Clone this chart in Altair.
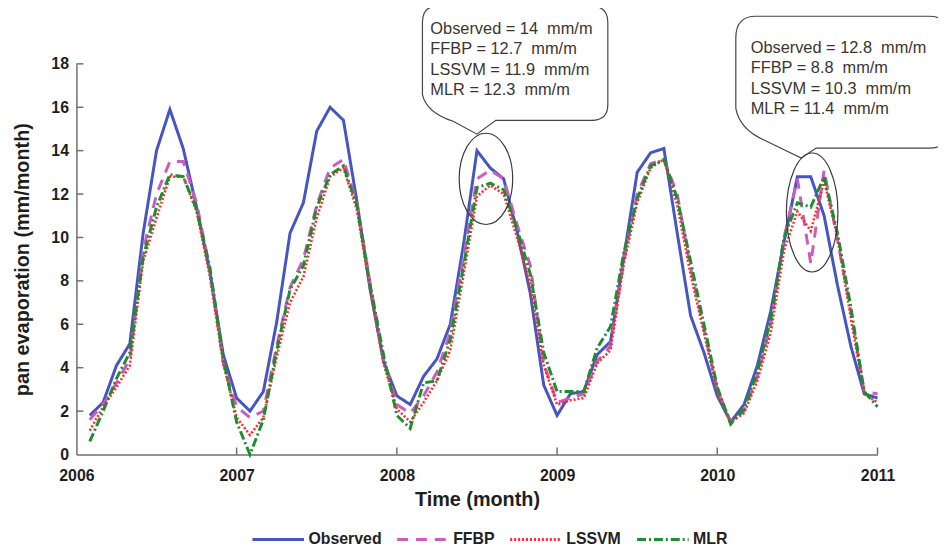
import altair as alt
import pandas as pd

# ---------------- data ----------------
month_index = list(range(1, 61))  # Jan 2006 .. Dec 2010 (monthly)
observed = [1.8, 2.4, 4.1, 5.1, 10.2, 14.0, 15.9, 14.1, 11.4, 8.4, 4.6, 2.6,
            2.0, 2.9, 6.1, 10.2, 11.6, 14.9, 16.0, 15.4, 11.7, 7.6, 4.3, 2.7,
            2.3, 3.6, 4.4, 6.0, 9.7, 14.0, 13.2, 12.7, 10.3, 7.4, 3.2, 1.8,
            2.8, 2.9, 4.6, 5.2, 9.1, 13.0, 13.9, 14.1, 10.2, 6.4, 4.7, 2.7,
            1.5, 2.3, 4.1, 6.6, 9.8, 12.8, 12.8, 11.0, 7.8, 5.0, 2.8, 2.6]
ffbp = [1.6, 2.3, 3.3, 4.4, 9.4, 12.0, 13.5, 13.5, 11.6, 8.5, 4.2, 2.2,
        1.7, 2.0, 5.0, 7.7, 9.0, 11.5, 13.2, 13.6, 11.6, 7.9, 4.4, 2.3,
        1.9, 2.7, 3.8, 5.6, 9.1, 12.7, 13.1, 12.7, 10.6, 8.7, 4.2, 2.4,
        2.6, 2.8, 4.3, 5.0, 8.9, 12.0, 13.4, 13.6, 12.0, 8.6, 5.8, 3.0,
        1.5, 2.0, 3.6, 6.0, 10.0, 12.7, 8.8, 13.1, 9.9, 6.6, 2.9, 2.8]
lssvm = [1.1, 2.2, 3.1, 4.1, 8.9, 10.9, 12.8, 12.8, 11.2, 8.2, 4.2, 1.7,
         0.9, 1.7, 4.5, 7.0, 8.2, 10.9, 12.8, 13.2, 11.3, 7.6, 4.2, 2.1,
         1.5, 2.4, 3.4, 4.8, 8.3, 11.9, 12.4, 12.0, 10.0, 7.8, 4.1, 2.3,
         2.5, 2.6, 4.2, 4.8, 8.8, 11.6, 13.2, 13.6, 11.5, 8.3, 5.6, 2.9,
         1.5, 1.9, 3.4, 5.6, 9.4, 11.2, 10.3, 12.6, 10.0, 6.3, 2.8, 2.4]
mlr = [0.6, 2.0, 3.5, 4.7, 9.1, 11.4, 12.9, 12.8, 11.3, 8.6, 4.4, 1.5,
       0.0, 1.6, 4.8, 7.6, 8.7, 11.4, 12.9, 13.3, 11.5, 7.8, 4.6, 1.8,
       1.2, 3.3, 3.4, 5.3, 8.7, 12.3, 12.5, 12.2, 10.4, 8.3, 4.7, 2.9,
       2.9, 2.9, 4.9, 5.9, 9.3, 11.8, 13.3, 13.6, 11.8, 8.9, 6.0, 3.1,
       1.4, 2.1, 3.8, 6.2, 10.0, 11.6, 11.4, 12.8, 10.2, 6.8, 2.9, 2.2]

series_names = ["Observed", "FFBP", "LSSVM", "MLR"]
series_colors = ["#4656c0", "#cc5cbf", "#ff2a2a", "#1f8c2f"]
series_dashes = [[1, 0], [11, 8], [2, 2], [9, 3, 2, 3]]
series_widths = [3, 3, 2.6, 3]

year_ticks = [2006, 2007, 2008, 2009, 2010, 2011]
value_ticks = [0, 2, 4, 6, 8, 10, 12, 14, 16, 18]

callout_labels = ["Observed", "FFBP", "LSSVM", "MLR"]
callout1_values = ["14", "12.7", "11.9", "12.3"]
callout2_values = ["12.8", "8.8", "10.3", "11.4"]
# circled regions (centre in data units) and callout tips (data units)
circle_time = [2008.556, 2010.592]
circle_value = [12.70, 11.15]
tip_time = [2008.500, 2010.524]
tip_value = [14.76, 13.66]

FONT = "Liberation Sans"
AXIS_COLOR = "#707070"
W, H = 808, 394

rows = []
for name, vals in zip(series_names, [observed, ffbp, lssvm, mlr]):
    for m, v in zip(month_index, vals):
        rows.append({"series": name, "time": 2006 + m / 12.0, "value": v})
df = pd.DataFrame(rows)

x_scale = alt.Scale(domain=[2006, 2011], nice=False, zero=False)
y_scale = alt.Scale(domain=[0, 18], nice=False)

x_enc = alt.X("time:Q", scale=x_scale,
              axis=alt.Axis(values=year_ticks, format="d", title="Time (month)",
                            labelPadding=13, labelFlush=False, labelOverlap=False,
                            titleY=35, titleBaseline="top"))
y_enc = alt.Y("value:Q", scale=y_scale,
              axis=alt.Axis(values=value_ticks, title="pan evaporation (mm/month)",
                            labelPadding=8, titleAngle=270, titleBaseline="bottom",
                            titleAlign="center", titleX=-44, titleY=H / 2))

legend = alt.Legend(orient="none", legendX=176, legendY=452, direction="horizontal",
                    symbolType="stroke", symbolSize=2704, symbolStrokeWidth=3,
                    labelFont=FONT, labelFontSize=16, labelFontWeight="bold",
                    labelColor="#222222", labelOffset=3, columnPadding=9, padding=0)
color_enc = alt.Color("series:N", title=None,
                      scale=alt.Scale(domain=series_names, range=series_colors),
                      legend=legend)
dash_enc = alt.StrokeDash("series:N", title=None,
                          scale=alt.Scale(domain=series_names, range=series_dashes),
                          legend=legend)

layers = []
for name, w in zip(series_names, series_widths):
    layers.append(
        alt.Chart(df).transform_filter(alt.datum.series == name)
        .mark_line(strokeWidth=w)
        .encode(x=x_enc, y=y_enc, color=color_enc, strokeDash=dash_enc)
    )

# inward ticks
ytick_df = pd.DataFrame({"value": value_ticks[1:]})
xtick_df = pd.DataFrame({"time": year_ticks[1:]})
layers.append(
    alt.Chart(ytick_df).mark_rule(color=AXIS_COLOR, strokeWidth=1.5)
    .encode(y=y_enc, x=alt.value(0), x2=alt.value(7))
)
layers.append(
    alt.Chart(xtick_df).mark_rule(color=AXIS_COLOR, strokeWidth=1.5)
    .encode(x=x_enc, y=alt.value(H), y2=alt.value(H - 7))
)

# ellipses around the highlighted peaks and speech-bubble callouts
ellipse_paths = [
    "M -27 0 A 27 46 0 1 0 27 0 A 27 46 0 1 0 -27 0 Z",
    "M -26 0 A 26 60 0 1 0 26 0 A 26 60 0 1 0 -26 0 Z",
]
bubble_paths = [
    "M -40 -129 H 116 Q 132 -129 132 -113 V -30 Q 132 -14 116 -14 H 19 L 0 0 "
    "L -24 -13 Q -51 -22 -55 -40 V -113 Q -55 -129 -40 -129 Z",
    "M -46 -143 H 129 Q 149 -143 149 -121 V -30 Q 149 -10 129 -10 H 15 L 0 0 "
    "L -35 -17 Q -62 -28 -66 -50 V -121 Q -66 -143 -46 -143 Z",
]
text_offsets = [(-47, -106), (-51, -111)]
callout_values = [callout1_values, callout2_values]

for i in range(2):
    cdf = pd.DataFrame({"time": [circle_time[i]], "value": [circle_value[i]]})
    layers.append(
        alt.Chart(cdf).mark_point(shape=ellipse_paths[i], size=4, filled=False,
                                  color="#3a3a3a", strokeWidth=1.2, opacity=1)
        .encode(x=x_enc, y=y_enc)
    )
    text = "\n".join(f"{lab} = {val}\u00a0 mm/m"
                     for lab, val in zip(callout_labels, callout_values[i]))
    tdf = pd.DataFrame({"time": [tip_time[i]], "value": [tip_value[i]], "label": [text]})
    layers.append(
        alt.Chart(tdf).mark_point(shape=bubble_paths[i], size=4, filled=False,
                                  color="#444444", strokeWidth=1.2, opacity=1)
        .encode(x=x_enc, y=y_enc)
    )
    layers.append(
        alt.Chart(tdf).mark_text(align="left", baseline="middle",
                                 dx=text_offsets[i][0], dy=text_offsets[i][1],
                                 lineBreak="\n", lineHeight=20.5, font=FONT,
                                 fontSize=16.5, color="#3b3530")
        .encode(x=x_enc, y=y_enc, text="label:N")
    )

chart = (
    alt.layer(*layers)
    .properties(width=W, height=H,
                padding={"left": 69, "top": 54, "right": 61, "bottom": 94},
                autosize=alt.AutoSizeParams(type="none"),
                background="white")
    .configure_view(strokeWidth=0)
    .configure_axis(domainColor=AXIS_COLOR, domainWidth=1.5, ticks=False, grid=False,
                    labelFont=FONT, labelFontSize=16, labelFontWeight="bold",
                    labelColor="#1e1e1e", titleFont=FONT, titleFontSize=20,
                    titleFontWeight="bold", titleColor="#1e1e1e")
)

chart.save("out.html", embed_options={"renderer": "svg", "actions": False})
